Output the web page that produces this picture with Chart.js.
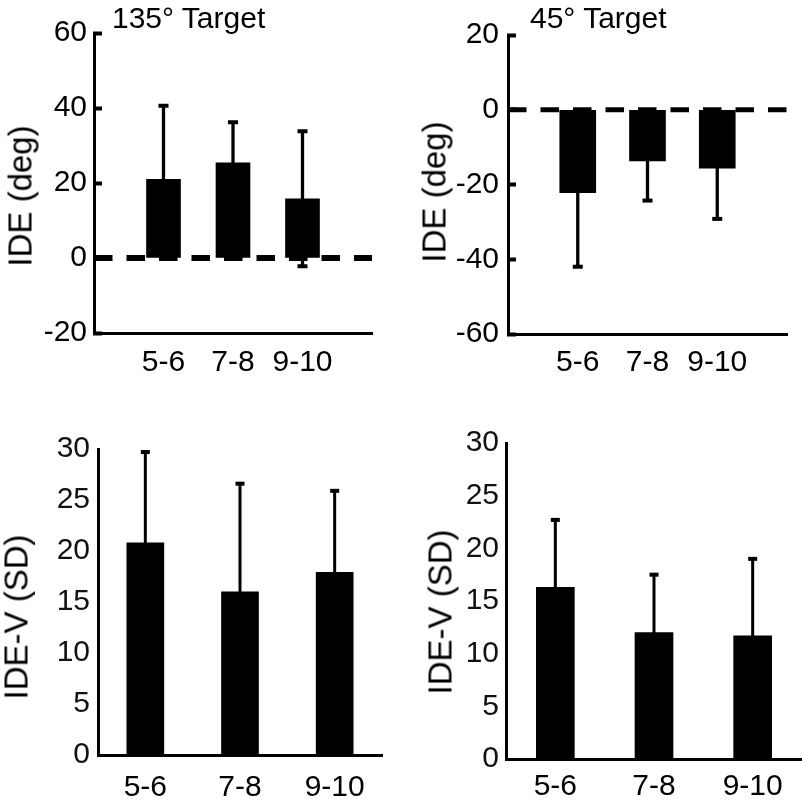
<!DOCTYPE html>
<html>
<head>
<meta charset="utf-8">
<script src="https://cdn.jsdelivr.net/npm/chart.js@4/dist/chart.umd.min.js"></script>
<style>
  html, body { margin: 0; padding: 0; background: #fff; }
  body { width: 802px; height: 809px; position: relative; overflow: hidden; font-family: "Liberation Sans", Arial, sans-serif; }
  canvas { position: absolute; }
  .txt { position: absolute; color: #000; white-space: nowrap; line-height: 1; }
  .title { font-size: 30px; }
  .ytitle { font-size: 33px; transform: translate(-50%, -50%) rotate(-90deg); }
</style>
</head>
<body>
<canvas id="c1" width="400" height="400" style="left:0;top:0"></canvas>
<canvas id="c2" width="402" height="400" style="left:400px;top:0"></canvas>
<canvas id="c3" width="400" height="409" style="left:0;top:400px"></canvas>
<canvas id="c4" width="402" height="409" style="left:400px;top:400px"></canvas>

<div class="txt title" style="left:112px;top:3px">135° Target</div>
<div class="txt title" style="left:530px;top:3px">45° Target</div>
<div class="txt ytitle" style="left:20px;top:196px">IDE (deg)</div>
<div class="txt ytitle" style="left:434px;top:192px">IDE (deg)</div>
<div class="txt ytitle" style="left:16px;top:617px">IDE-V (SD)</div>
<div class="txt ytitle" style="left:440px;top:612px">IDE-V (SD)</div>

<script>
// ---- data ----
const categories = ['5-6', '7-8', '9-10'];

const ide135Mean = [21.0, 25.4, 15.8];
const ide135Err  = [19.6, 10.8, 18.0];

const ide45Mean  = [-22.2, -13.7, -15.6];
const ide45Err   = [19.8, 10.6, 13.6];

const ideV135Mean = [20.8, 16.0, 17.9];
const ideV135Err  = [8.9, 10.6, 8.0];

const ideV45Mean  = [16.3, 12.0, 11.7];
const ideV45Err   = [6.4, 5.5, 7.3];

const ide135Range = [-20, 60];
const ide45Range  = [-60, 20];
const ideVRange   = [0, 30];
const ideStep = 20;
const ideVStep = 5;

// ---- error bar plugin ----
const errorBarPlugin = {
  id: 'errorBars',
  afterDatasetsDraw(chart, args, opts) {
    if (!opts || !opts.errors) return;
    const meta = chart.getDatasetMeta(0);
    const ys = chart.scales.y;
    const means = opts.means;
    const ctx = chart.ctx;
    ctx.save();
    ctx.fillStyle = '#000';
    ctx.strokeStyle = '#000';
    ctx.lineWidth = opts.lineWidth;
    meta.data.forEach((el, i) => {
      const x = el.x;
      const yTop = ys.getPixelForValue(means[i] + opts.errors[i]);
      const yBot = ys.getPixelForValue(means[i] - opts.errors[i]);
      ctx.beginPath();
      ctx.moveTo(x, yTop);
      ctx.lineTo(x, yBot);
      ctx.stroke();
      ctx.fillRect(x - opts.capWidth / 2, yTop - opts.capHeight / 2, opts.capWidth, opts.capHeight);
      ctx.fillRect(x - opts.capWidth / 2, yBot - opts.capHeight / 2, opts.capWidth, opts.capHeight);
    });
    ctx.restore();
  }
};

const FONT = { family: '"Liberation Sans", Arial, sans-serif', size: 30 };

function topChart(id, means, errs, range, cfg) {
  return new Chart(document.getElementById(id), {
    type: 'bar',
    data: {
      datasets: [
        {
          type: 'bar',
          data: categories.map((c, i) => ({ x: i + 1, y: means[i] })),
          backgroundColor: '#000',
          borderWidth: 0,
          barThickness: cfg.barThickness
        },
        {
          type: 'line',
          data: [{ x: 0, y: 0 }, { x: categories.length + 1, y: 0 }],
          borderColor: '#000',
          borderWidth: cfg.dashWidth,
          borderDash: [18.5, 14],
          borderCapStyle: 'butt',
          pointRadius: 0,
          fill: false
        }
      ]
    },
    options: {
      responsive: false,
      devicePixelRatio: 1,
      animation: false,
      events: [],
      layout: { padding: cfg.padding },
      plugins: {
        legend: { display: false },
        tooltip: { enabled: false },
        errorBars: { means: means, errors: errs, lineWidth: 3.3, capWidth: 10, capHeight: 4 }
      },
      scales: {
        x: {
          type: 'linear',
          min: 0,
          max: categories.length + 1,
          offset: false,
          afterBuildTicks: (s) => { s.ticks = categories.map((c, i) => ({ value: i + 1 })); },
          afterFit: (s) => { s.height = cfg.xHeight; },
          grid: { display: false, drawTicks: false },
          border: { display: true, color: '#000', width: 3 },
          ticks: {
            color: '#000', font: FONT, padding: cfg.xPad, maxRotation: 0,
            callback: (v) => categories[v - 1] || ''
          }
        },
        y: {
          min: range[0],
          max: range[1],
          afterFit: (s) => { s.width = cfg.yWidth; },
          grid: { display: true, drawOnChartArea: false, drawTicks: true, tickLength: -8, tickWidth: 4, tickColor: '#000' },
          border: { display: true, color: '#000', width: 3 },
          ticks: { stepSize: ideStep, color: '#000', font: FONT, padding: cfg.yPad }
        }
      }
    },
    plugins: [errorBarPlugin]
  });
}

function bottomChart(id, means, errs, cfg) {
  return new Chart(document.getElementById(id), {
    type: 'bar',
    data: {
      labels: categories,
      datasets: [{
        data: means,
        backgroundColor: '#000',
        borderWidth: 0,
        barThickness: cfg.barThickness
      }]
    },
    options: {
      responsive: false,
      devicePixelRatio: 1,
      animation: false,
      events: [],
      layout: { padding: cfg.padding },
      plugins: {
        legend: { display: false },
        tooltip: { enabled: false },
        errorBars: { means: means, errors: errs, lineWidth: 3, capWidth: 9, capHeight: 4 }
      },
      scales: {
        x: {
          offset: true,
          afterFit: (s) => { s.height = cfg.xHeight; },
          grid: { display: false, drawTicks: false },
          border: { display: true, color: '#000', width: 3 },
          ticks: { color: '#000', font: FONT, padding: cfg.xPad, maxRotation: 0 }
        },
        y: {
          min: ideVRange[0],
          max: ideVRange[1],
          afterFit: (s) => { s.width = cfg.yWidth; },
          grid: { display: false, drawTicks: false },
          border: { display: true, color: '#000', width: 3 },
          ticks: { stepSize: ideVStep, color: '#111', font: FONT, padding: cfg.yPad }
        }
      }
    },
    plugins: [errorBarPlugin]
  });
}

topChart('c1', ide135Mean, ide135Err, ide135Range, {
  padding: { top: 25, right: 28, left: 0, bottom: 0 },
  yWidth: 94, xHeight: 67, xPad: 12, yPad: 15, barThickness: 34, dashWidth: 6
});
topChart('c2', ide45Mean, ide45Err, ide45Range, {
  padding: { top: 22, right: 15, left: 0, bottom: 0 },
  yWidth: 108, xHeight: 66, xPad: 11, yPad: 17, barThickness: 36, dashWidth: 5
});
bottomChart('c3', ideV135Mean, ideV135Err, {
  padding: { top: 49, right: 18, left: 0, bottom: 0 },
  yWidth: 98, xHeight: 54, xPad: 15, yPad: 8, barThickness: 37
});
bottomChart('c4', ideV45Mean, ideV45Err, {
  padding: { top: 43, right: 0, left: 0, bottom: 0 },
  yWidth: 106, xHeight: 50, xPad: 10, yPad: 7, barThickness: 38
});
</script>
</body>
</html>
